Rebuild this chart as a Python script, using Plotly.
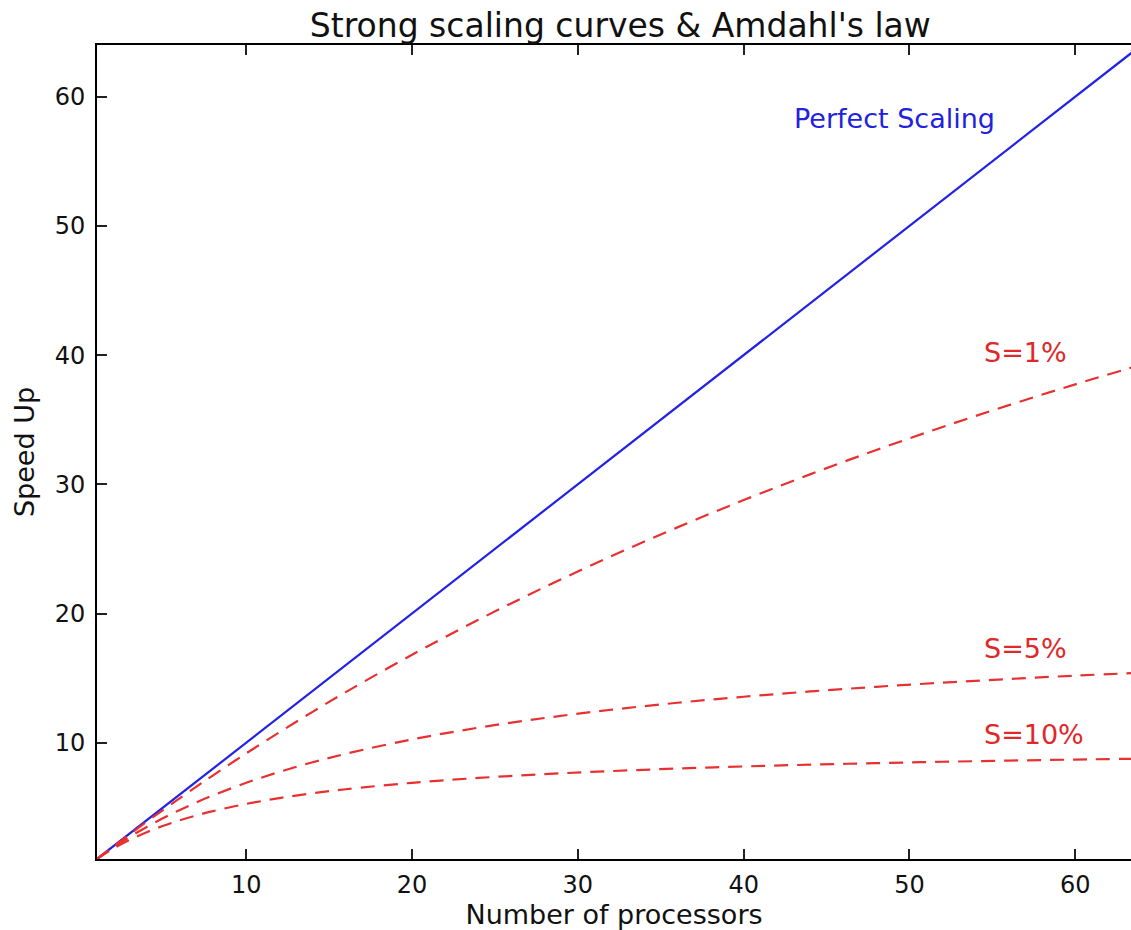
import plotly.graph_objects as go

processors = [1, 2, 3, 4, 5, 6, 7, 8, 10, 12, 14, 16, 20, 24, 28, 32, 36, 40, 44, 48, 52, 56, 60, 64]
perfect = [1, 2, 3, 4, 5, 6, 7, 8, 10, 12, 14, 16, 20, 24, 28, 32, 36, 40, 44, 48, 52, 56, 60, 64]
s1 = [1.0, 1.980, 2.941, 3.883, 4.808, 5.714, 6.604, 7.477, 9.174, 10.811, 12.389, 13.913,
      16.807, 19.512, 22.047, 24.427, 26.667, 28.777, 30.769, 32.653, 34.437, 36.129, 37.736, 39.264]
s5 = [1.0, 1.905, 2.727, 3.478, 4.167, 4.8, 5.385, 5.926, 6.897, 7.742, 8.485, 9.143,
      10.256, 11.163, 11.915, 12.549, 13.091, 13.559, 13.968, 14.328, 14.648, 14.933, 15.190, 15.422]
s10 = [1.0, 1.818, 2.5, 3.077, 3.571, 4.0, 4.375, 4.706, 5.263, 5.714, 6.087, 6.4,
       6.897, 7.273, 7.568, 7.805, 8.0, 8.163, 8.302, 8.421, 8.525, 8.615, 8.696, 8.767]

labels = ["Perfect Scaling", "S=1%", "S=5%", "S=10%"]
label_x = [42.9, 54.4, 54.4, 54.4]
label_y = [58.3, 40.2, 17.3, 10.6]
label_colors = ["#2222dd", "#e02828", "#e02828", "#e02828"]

x_ticks = [10, 20, 30, 40, 50, 60]
y_ticks = [10, 20, 30, 40, 50, 60]

FONT = "DejaVu Sans"

fig = go.Figure()
fig.add_trace(go.Scatter(x=processors, y=perfect, mode="lines",
                         line=dict(color="#2222e6", width=2.2), showlegend=False))
for ys in (s1, s5, s10):
    fig.add_trace(go.Scatter(x=processors, y=ys, mode="lines", line_shape="spline",
                             line=dict(color="#e83030", width=2.2, dash="14px,9px"),
                             showlegend=False))

for t, xx, yy, c in zip(labels, label_x, label_y, label_colors):
    fig.add_annotation(x=xx, y=yy, text=t, showarrow=False, xanchor="left",
                       yanchor="middle", font=dict(family=FONT, size=27, color=c))

axis_common = dict(showgrid=False, zeroline=False, showline=True, linecolor="black",
                   linewidth=2, ticks="inside", ticklen=10,
                   tickwidth=1.5, tickcolor="#222222",
                   tickfont=dict(family=FONT, size=24, color="#111111"))

fig.update_layout(
    width=1131, height=930,
    margin=dict(l=97, r=0, t=45, b=71),
    plot_bgcolor="white", paper_bgcolor="white",
    title=dict(text="Strong scaling curves & Amdahl's law", xref="container", x=0.5485,
               xanchor="center", y=0.973, yanchor="middle",
               font=dict(family=FONT, size=33, color="#111111")),
    xaxis=dict(range=[1, 63.36], tickvals=x_ticks, ticklabelstandoff=3, mirror="ticks",
               title=dict(text="Number of processors", standoff=4,
                          font=dict(family=FONT, size=27, color="#111111")),
               **axis_common),
    yaxis=dict(range=[1, 64], tickvals=y_ticks, ticklabelstandoff=5, mirror=False,
               title=dict(text="Speed Up", standoff=12,
                          font=dict(family=FONT, size=27, color="#111111")),
               **axis_common),
)

fig.write_html("out.html", config={"displayModeBar": False},
               post_script="document.body.style.margin='0px';"
                           "document.body.style.overflow='hidden';")
